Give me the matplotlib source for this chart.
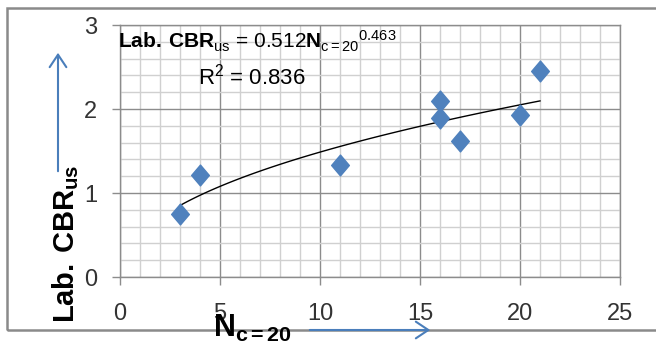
import numpy as np
import matplotlib.pyplot as plt
from matplotlib.patches import Rectangle, FancyArrowPatch
from matplotlib.path import Path
from matplotlib.ticker import MultipleLocator

plt.rcParams['font.family'] = ['Liberation Sans', 'DejaVu Sans']
plt.rcParams['mathtext.fontset'] = 'custom'
plt.rcParams['mathtext.rm'] = 'Liberation Sans'
plt.rcParams['mathtext.bf'] = 'Liberation Sans:bold'
plt.rcParams['mathtext.it'] = 'Liberation Sans:italic'

# data
n_c20 = [3, 4, 11, 16, 16, 17, 20, 21]
cbr_us = [0.75, 1.21, 1.33, 2.09, 1.89, 1.62, 1.93, 2.45]
coef_a = 0.512
coef_b = 0.463
r_squared = 0.836
x_ticks = [0, 5, 10, 15, 20, 25]
y_ticks = [0, 1, 2, 3]

W, H = 656, 343


def px(x, y):
    # pixel position -> figure fraction
    return x / W, 1 - y / H


fig = plt.figure(figsize=(W / 100, H / 100), dpi=100)
ax = fig.add_axes([120 / W, 66 / H, 500 / W, 252 / H])

# diamond a bit taller than wide, like the excel marker
diamond = Path([(0, 1), (0.85, 0), (0, -1), (-0.85, 0), (0, 1)],
               [Path.MOVETO, Path.LINETO, Path.LINETO, Path.LINETO, Path.CLOSEPOLY])
ax.plot(n_c20, cbr_us, ls='none', marker=diamond, ms=15, color='#4F81BD', zorder=3)

# power trend line
xt = np.linspace(min(n_c20), max(n_c20), 100)
ax.plot(xt, coef_a * xt ** coef_b, color='black', lw=1, zorder=2)

ax.set_xlim(0, 25)
ax.set_ylim(0, 3)
ax.set_xticks(x_ticks)
ax.set_yticks(y_ticks)
ax.xaxis.set_minor_locator(MultipleLocator(1))
ax.yaxis.set_minor_locator(MultipleLocator(0.2))
ax.grid(which='major', color='#8c8c8c', lw=1)
ax.grid(which='minor', color='#d0d0d0', lw=1)
ax.set_axisbelow(True)
for s in ax.spines.values():
    s.set_color('#8c8c8c')
    s.set_linewidth(1)
ax.tick_params(which='major', length=5.5, width=1, color='#8c8c8c',
               labelsize=17, labelcolor='#333333')
ax.tick_params(axis='y', pad=11)
ax.tick_params(axis='x', pad=13)
ax.tick_params(which='minor', length=0)

# equation and R^2
eq = (r'$\mathbf{Lab.\:CBR}_{\mathrm{us}}$ = '
      + r'%.3f$\mathbf{N}_{\mathrm{c{=}20}}{}^{\mathrm{%.3f}}$' % (coef_a, coef_b))
fig.text(*px(118, 48), eq, fontsize=15, va='baseline', ha='left')
fig.text(*px(252, 85), r'R$^{2}$ = %.3f' % r_squared, fontsize=16, va='baseline', ha='center')

# axis titles
fig.text(*px(66, 244), r'$\mathbf{Lab.\:CBR}_{\mathbf{us}}$', fontsize=21, rotation=90,
         ha='center', va='center')
fig.text(*px(213, 337), r'$\mathbf{N}_{\mathbf{c{=}20}}$', fontsize=22, ha='left', va='baseline')

# outer chart border
fig.patches.append(Rectangle(px(7, 330), (700 - 7) / W, (330 - 8) / H, transform=fig.transFigure,
                             fill=False, ec='#8a8a8a', lw=1.8, zorder=0))

# blue direction arrows
arrow_kw = dict(transform=fig.transFigure, arrowstyle='->,head_length=0.45,head_width=0.3',
                mutation_scale=20, color='#4A7EBB', lw=1.5)
fig.patches.append(FancyArrowPatch(px(58, 174), px(58, 50), **arrow_kw))
fig.patches.append(FancyArrowPatch(px(307, 330), px(433, 330), **arrow_kw))

fig.savefig('out.png', dpi=100)
